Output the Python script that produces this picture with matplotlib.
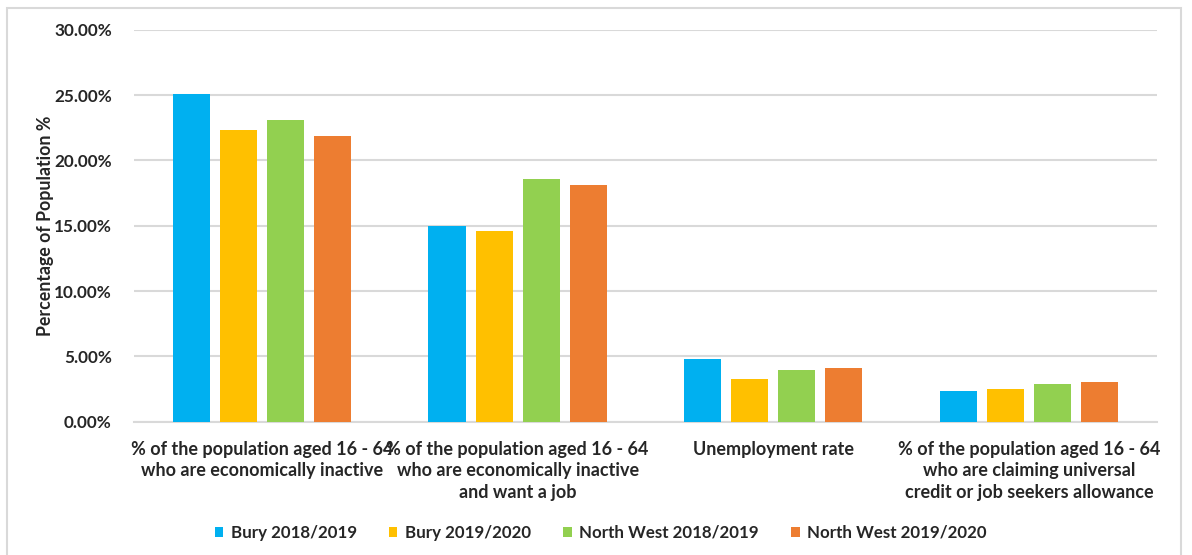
import matplotlib
matplotlib.use("Agg")
import matplotlib.pyplot as plt
import numpy as np
from matplotlib.ticker import PercentFormatter
from matplotlib.patches import Rectangle

categories = [
    "% of the population aged 16 - 64\nwho are economically inactive",
    "% of the population aged 16 - 64\nwho are economically inactive\nand want a job",
    "Unemployment rate",
    "% of the population aged 16 - 64\nwho are claiming universal\ncredit or job seekers allowance",
]
series_names = ["Bury 2018/2019", "Bury 2019/2020", "North West 2018/2019", "North West 2019/2020"]
bury_1819 = [25.1, 15.0, 4.8, 2.37]
bury_1920 = [22.3, 14.6, 3.27, 2.5]
nw_1819 = [23.1, 18.6, 3.98, 2.86]
nw_1920 = [21.9, 18.14, 4.11, 3.01]
colors = ["#00B0F0", "#FFC000", "#92D050", "#ED7D31"]

plt.rcParams['font.family'] = ['Lato', 'DejaVu Sans']

fig = plt.figure(figsize=(11.92, 5.55), dpi=100)
ax = fig.add_axes([0.1124, 0.2402, 0.8582, 0.7063])

x = np.arange(len(categories))
w = 0.145
step = 0.184
data = [bury_1819, bury_1920, nw_1819, nw_1920]
for i, (vals, name, c) in enumerate(zip(data, series_names, colors)):
    ax.bar(x + (i - 1.5) * step, np.array(vals) / 100, width=w, color=c, label=name, zorder=3)

ax.set_xlim(-0.5, 3.5)
ax.set_ylim(0, 0.30)
ax.set_yticks(np.arange(0, 0.301, 0.05))
ax.yaxis.set_major_formatter(PercentFormatter(1.0, decimals=2))
ax.grid(axis='y', color='#d9d9d9', linewidth=1.5, zorder=0)
for s in ['top', 'right', 'left']:
    ax.spines[s].set_visible(False)
ax.spines['bottom'].set_color('#d9d9d9')
ax.spines['bottom'].set_linewidth(1.5)
ax.tick_params(axis='both', length=0, colors='#262626')
ax.tick_params(axis='y', pad=16, labelsize=12.3)
ax.set_xticks(x)
ax.set_xticklabels(categories, fontweight='bold', linespacing=1.3, fontsize=13)
ax.tick_params(axis='x', pad=14)
for lbl in ax.get_yticklabels():
    lbl.set_fontweight('bold')
ax.set_ylabel("Percentage of Population %", fontsize=12.8, fontweight='bold', color='#262626')
ax.yaxis.set_label_coords(-0.078, 0.5)

leg = fig.legend(loc='center', bbox_to_anchor=(0.504, 0.04), ncol=4, frameon=False,
                 prop={'size': 12.2, 'weight': 'bold'}, handlelength=0.5, handleheight=0.5,
                 handletextpad=0.45, columnspacing=1.9)
for t in leg.get_texts():
    t.set_color('#262626')

fig.patches.append(Rectangle((7 / 1192, -0.01), (1181 - 7) / 1192, 1 - 8 / 555 + 0.01,
                             transform=fig.transFigure, fill=False, edgecolor='#d9d9d9', linewidth=1.5))

fig.savefig("out.png", dpi=100)
